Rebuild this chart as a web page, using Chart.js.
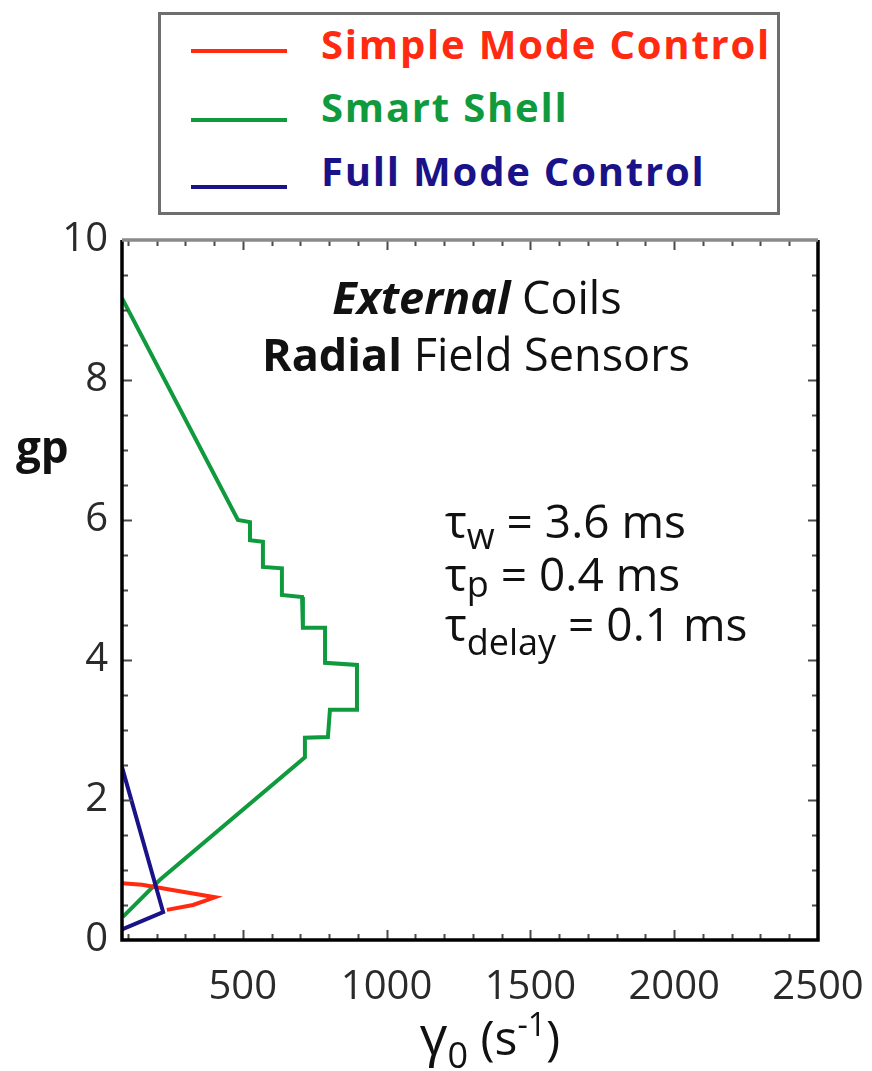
<!DOCTYPE html>
<html>
<head>
<meta charset="utf-8">
<script src="https://cdn.jsdelivr.net/npm/chart.js@4/dist/chart.umd.min.js"></script>
<style>
  html, body { margin: 0; padding: 0; background: #fff; }
  #wrap { position: relative; width: 872px; height: 1071px; }
  #legend {
    position: absolute; left: 158px; top: 12px; width: 622px; height: 203px;
    border: 3px solid #6e6e6e; box-sizing: border-box; background: #fff;
    font-family: "Open Sans", sans-serif; font-weight: bold; font-size: 40px;
    letter-spacing: 1.8px;
  }
  #legend .sample { position: absolute; left: 30px; width: 96px; height: 4px; }
  #legend .lbl { position: absolute; left: 160px; line-height: 44px; white-space: nowrap; }
</style>
</head>
<body>
<div id="wrap">
  <canvas id="chart" width="872" height="1071"></canvas>
  <div id="legend"></div>
</div>
<script>
// gain vs growth rate, three feedback schemes
const seriesNames = ["Simple Mode Control", "Smart Shell", "Full Mode Control"];
const seriesColors = ["#ff2a10", "#0f9a3e", "#1a1288"];

const simpleX = [80, 150, 260, 403, 327, 236];
const simpleY = [0.81, 0.79, 0.71, 0.61, 0.50, 0.43];

const shellX = [80, 483, 525, 525, 570, 570, 636, 636, 706, 709, 786, 786, 897, 897, 803, 796, 716, 716, 212, 83];
const shellY = [9.17, 6.00, 5.97, 5.71, 5.69, 5.33, 5.31, 4.93, 4.90, 4.46, 4.46, 3.96, 3.93, 3.29, 3.29, 2.90, 2.89, 2.61, 0.86, 0.33];

const fullX = [80, 223, 80];
const fullY = [2.47, 0.40, 0.15];

const xTicks = [500, 1000, 1500, 2000, 2500];
const yTicks = [0, 2, 4, 6, 8, 10];

const FONT = "'Open Sans', sans-serif";

function pts(xs, ys) {
  return xs.map((x, i) => ({ x: x, y: ys[i] }));
}

// legend box above the plot
const legend = document.getElementById("legend");
const lineTops = [34, 103, 170];
const textTops = [7, 70, 134];
seriesNames.forEach((name, i) => {
  const s = document.createElement("div");
  s.className = "sample";
  s.style.top = lineTops[i] + "px";
  s.style.background = seriesColors[i];
  legend.appendChild(s);
  const t = document.createElement("div");
  t.className = "lbl";
  t.style.top = textTops[i] + "px";
  t.style.color = seriesColors[i];
  t.textContent = name;
  legend.appendChild(t);
});

// draws a row of text pieces with their own font and baseline shift
function drawRuns(ctx, runs, x, y, align) {
  let total = 0;
  runs.forEach(r => { ctx.font = r.f; total += ctx.measureText(r.t).width; });
  let cx = align === "center" ? x - total / 2 : x;
  runs.forEach(r => {
    ctx.font = r.f;
    ctx.fillText(r.t, cx, y + (r.dy || 0));
    cx += ctx.measureText(r.t).width;
  });
}

const frame = {
  id: "frame",
  afterDatasetsDraw(chart) {
    const ctx = chart.ctx;
    const a = chart.chartArea;
    const x = chart.scales.x, y = chart.scales.y;
    ctx.save();

    // inward ticks on every side
    ctx.strokeStyle = "#4a4a4a";
    ctx.lineWidth = 2;
    ctx.beginPath();
    for (let v = 100; v <= 2400; v += 100) {
      const px = Math.round(x.getPixelForValue(v)) + 0.5;
      const len = v % 500 === 0 ? 10 : 6;
      ctx.moveTo(px, a.bottom); ctx.lineTo(px, a.bottom - len);
      ctx.moveTo(px, a.top); ctx.lineTo(px, a.top + len);
    }
    for (let v = 0.5; v < 10; v += 0.5) {
      const py = Math.round(y.getPixelForValue(v)) + 0.5;
      const len = v % 2 === 0 ? 10 : 6;
      ctx.moveTo(a.left, py); ctx.lineTo(a.left + len, py);
      ctx.moveTo(a.right, py); ctx.lineTo(a.right - len, py);
    }
    ctx.stroke();

    // frame: solid on left, bottom, right, grey along the top
    ctx.lineWidth = 3.5;
    ctx.strokeStyle = "#000";
    ctx.beginPath();
    ctx.moveTo(a.left, a.top); ctx.lineTo(a.left, a.bottom);
    ctx.lineTo(a.right, a.bottom); ctx.lineTo(a.right, a.top);
    ctx.stroke();
    ctx.strokeStyle = "#8a8a8a";
    ctx.beginPath();
    ctx.moveTo(a.left, a.top); ctx.lineTo(a.right, a.top);
    ctx.stroke();
    ctx.restore();
  },
  afterDraw(chart) {
    const ctx = chart.ctx;
    ctx.save();
    ctx.fillStyle = "#111";
    ctx.textBaseline = "alphabetic";

    drawRuns(ctx, [
      { t: "External", f: "italic bold 45px " + FONT },
      { t: " Coils", f: "45px " + FONT }
    ], 477, 314, "center");
    drawRuns(ctx, [
      { t: "Radial", f: "bold 45px " + FONT },
      { t: " Field Sensors", f: "45px " + FONT }
    ], 476, 371, "center");

    const big = "46px " + FONT, sub = "36px " + FONT;
    drawRuns(ctx, [{ t: "τ", f: big }, { t: "w", f: sub, dy: 11 }, { t: " = 3.6 ms", f: big }], 445, 538, "left");
    drawRuns(ctx, [{ t: "τ", f: big }, { t: "p", f: sub, dy: 6 }, { t: " = 0.4 ms", f: big }], 445, 591, "left");
    drawRuns(ctx, [{ t: "τ", f: big }, { t: "delay", f: sub, dy: 14 }, { t: " = 0.1 ms", f: big }], 445, 641, "left");

    // axis titles
    drawRuns(ctx, [{ t: "gp", f: "bold 44px " + FONT }], 16, 463, "left");
    drawRuns(ctx, [
      { t: "γ", f: "54px " + FONT },
      { t: "0", f: "36px " + FONT, dy: 13 },
      { t: " (s", f: "48px " + FONT },
      { t: "-1", f: "32px " + FONT, dy: -19 },
      { t: ")", f: "48px " + FONT }
    ], 490, 1055, "center");
    ctx.restore();
  }
};

const lineStyle = { showLine: true, pointRadius: 0, borderWidth: 4, tension: 0, fill: false };

new Chart(document.getElementById("chart"), {
  type: "scatter",
  data: {
    datasets: [
      Object.assign({ label: seriesNames[2], data: pts(fullX, fullY), borderColor: seriesColors[2], order: 0 }, lineStyle),
      Object.assign({ label: seriesNames[0], data: pts(simpleX, simpleY), borderColor: seriesColors[0], order: 1 }, lineStyle),
      Object.assign({ label: seriesNames[1], data: pts(shellX, shellY), borderColor: seriesColors[1], order: 2 }, lineStyle)
    ]
  },
  options: {
    responsive: false,
    animation: false,
    layout: { padding: { top: 240, right: 54, left: 0, bottom: 0 } },
    plugins: { legend: { display: false }, tooltip: { enabled: false } },
    scales: {
      x: {
        type: "linear", min: 80, max: 2500,
        grid: { display: false, drawTicks: false },
        border: { display: false },
        afterBuildTicks: s => { s.ticks = xTicks.map(v => ({ value: v })); },
        afterFit: s => { s.height = 131; s.paddingLeft = 0; s.paddingRight = 0; },
        ticks: { padding: 24, color: "#2a2a2a", font: { family: FONT, size: 40 }, callback: v => String(v) }
      },
      y: {
        type: "linear", min: 0, max: 10,
        grid: { display: false, drawTicks: false },
        border: { display: false },
        afterBuildTicks: s => { s.ticks = yTicks.map(v => ({ value: v })); },
        afterFit: s => { s.width = 122; s.paddingTop = 0; s.paddingBottom = 0; },
        ticks: { padding: 14, color: "#2a2a2a", font: { family: FONT, size: 40 }, callback: v => String(v) }
      }
    }
  },
  plugins: [frame]
});
</script>
</body>
</html>
